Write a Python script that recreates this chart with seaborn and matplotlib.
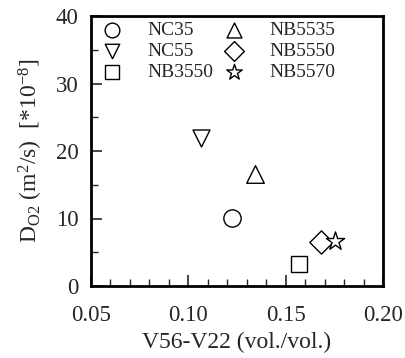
import matplotlib
matplotlib.use("Agg")
import matplotlib.pyplot as plt
from matplotlib.ticker import MultipleLocator
import seaborn as sns
import pandas as pd

samples = ["NC35", "NB5535", "NC55", "NB5550", "NB3550", "NB5570"]
v_diff = [0.1223, 0.1342, 0.1065, 0.168, 0.157, 0.1752]
d_o2 = [10.1, 16.6, 21.9, 6.5, 3.3, 6.6]
markers = {"NC35": "o", "NB5535": "^", "NC55": "v",
           "NB5550": "D", "NB3550": "s", "NB5570": "*"}
sizes = {"NC35": 155, "NB5535": 160, "NC55": 150,
         "NB5550": 140, "NB3550": 130, "NB5570": 190}

df = pd.DataFrame({"sample": samples, "x": v_diff, "y": d_o2})

sns.set_theme(style="white")
plt.rcParams["font.family"] = ["Liberation Serif", "DejaVu Serif"]
plt.rcParams["mathtext.fontset"] = "custom"
plt.rcParams["mathtext.rm"] = "Liberation Serif"
plt.rcParams["mathtext.it"] = "Liberation Serif:italic"

fig = plt.figure(figsize=(4.06, 3.58), dpi=100)
ax = fig.add_axes([91 / 406, 1 - 286 / 358, 292 / 406, 270 / 358])

for s in samples:
    sub = df[df["sample"] == s]
    sns.scatterplot(data=sub, x="x", y="y", marker=markers[s], s=sizes[s],
                    facecolor="white", edgecolor="black", linewidth=1.0,
                    ax=ax, label=s, zorder=3)

ax.set_xlim(0.05, 0.20)
ax.set_ylim(0, 40)
ax.xaxis.set_major_locator(MultipleLocator(0.05))
ax.xaxis.set_minor_locator(MultipleLocator(0.01))
ax.yaxis.set_major_locator(MultipleLocator(10))
ax.yaxis.set_minor_locator(MultipleLocator(5))
ax.set_xticklabels([f"{v:.2f}" for v in ax.get_xticks()])
ax.tick_params(which="major", direction="in", length=8, width=1.2,
               labelsize=16.5, bottom=True, left=True)
ax.tick_params(axis="x", which="major", pad=14)
ax.tick_params(axis="y", which="major", pad=9)
ax.tick_params(which="minor", direction="in", length=5, width=1.0,
               bottom=True, left=True)
for sp in ax.spines.values():
    sp.set_linewidth(2)
    sp.set_color("black")

ax.set_xlabel("V56-V22 (vol./vol.)", fontsize=17, labelpad=4)
ax.set_ylabel(r"D$_{\mathrm{O2}}$ (m$^2$/s)  [*10$^{-8}$]", fontsize=17, labelpad=8)

handles, labels = ax.get_legend_handles_labels()
order = ["NC35", "NC55", "NB3550", "NB5535", "NB5550", "NB5570"]
h = [handles[labels.index(o)] for o in order]
ax.legend(h, order, ncol=2, frameon=False, fontsize=14, loc="upper left",
          bbox_to_anchor=(0.032, 0.981), borderaxespad=0, borderpad=0,
          handletextpad=1.2, columnspacing=0.48,
          labelspacing=0.18, markerscale=0.85, handlelength=1.2)

fig.savefig("out.png", dpi=100)
